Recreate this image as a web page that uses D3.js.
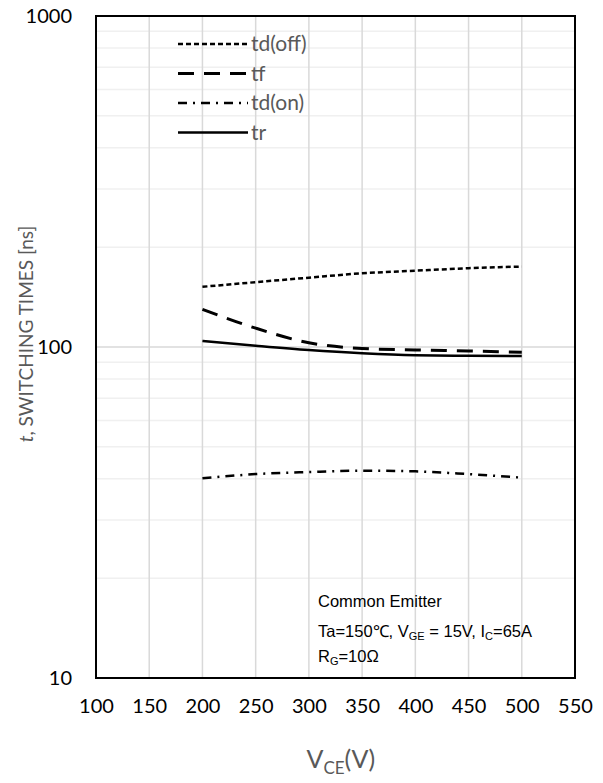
<!DOCTYPE html>
<html lang="en">
<head>
<meta charset="utf-8">
<title>Switching times vs VCE</title>
<script src="https://cdn.jsdelivr.net/npm/d3@7"></script>
<style>
  body { margin: 0; background: #fff; }
  svg text { font-family: Lato, "Open Sans", sans-serif; }
</style>
</head>
<body>
<svg id="chart" width="603" height="783"></svg>
<script>
// data
var vce = [200, 250, 300, 350, 400, 450, 500];
var tdOff = [152, 157, 162, 167, 170, 173, 175];
var tf = [130, 114, 103, 99, 98, 97.3, 96.4];
var tdOn = [40.1, 41.3, 41.9, 42.3, 42.1, 41.3, 40.3];
var tr = [104.3, 100.9, 97.9, 95.7, 94.4, 94.1, 93.9];

var xTicks = [100, 150, 200, 250, 300, 350, 400, 450, 500, 550];
var yTicks = [10, 100, 1000];

var series = [
  {name: "td(off)", values: tdOff, dash: "5,3", width: 2.5},
  {name: "tf", values: tf, dash: "16,10", width: 3},
  {name: "td(on)", values: tdOn, dash: "9,6,2,6", width: 2.5},
  {name: "tr", values: tr, dash: null, width: 2.5}
];

var margin = {left: 96, top: 16, right: 28, bottom: 105};
var svg = d3.select("#chart");
var W = 603 - margin.left - margin.right;
var H = 783 - margin.top - margin.bottom;

var x = d3.scaleLinear().domain([100, 550]).range([0, W]);
var y = d3.scaleLog().domain([10, 1000]).range([H, 0]);

var g = svg.append("g").attr("transform", "translate(" + margin.left + "," + margin.top + ")");

// minor horizontal gridlines
var minor = [];
[10, 100].forEach(function(dec) {
  for (var k = 2; k <= 9; k++) minor.push(dec * k);
});
g.selectAll(".minor").data(minor).enter().append("line")
  .attr("x1", 0).attr("x2", W)
  .attr("y1", function(d) { return y(d); }).attr("y2", function(d) { return y(d); })
  .attr("stroke", "#f0f0f0").attr("stroke-width", 1.5);

// major gridlines
g.selectAll(".ymajor").data(yTicks).enter().append("line")
  .attr("x1", 0).attr("x2", W)
  .attr("y1", function(d) { return y(d); }).attr("y2", function(d) { return y(d); })
  .attr("stroke", "#d9d9d9").attr("stroke-width", 1.5);
g.selectAll(".xgrid").data(xTicks).enter().append("line")
  .attr("x1", function(d) { return x(d); }).attr("x2", function(d) { return x(d); })
  .attr("y1", 0).attr("y2", H)
  .attr("stroke", "#d9d9d9").attr("stroke-width", 1.5);

// axes (labels only)
var xAxis = g.append("g").attr("transform", "translate(0," + H + ")")
  .call(d3.axisBottom(x).tickValues(xTicks).tickSize(0).tickPadding(21).tickFormat(d3.format("d")));
xAxis.select(".domain").remove();
xAxis.selectAll("text").attr("font-size", 20).attr("fill", "#000");

var yAxis = g.append("g")
  .call(d3.axisLeft(y).tickValues(yTicks).tickSize(0).tickPadding(24).tickFormat(d3.format("d")));
yAxis.select(".domain").remove();
yAxis.selectAll("text").attr("font-size", 20).attr("fill", "#000");

// curves
var line = d3.line()
  .x(function(d, i) { return x(vce[i]); })
  .y(function(d) { return y(d); })
  .curve(d3.curveMonotoneX);

g.selectAll(".series").data(series).enter().append("path")
  .attr("d", function(s) { return line(s.values); })
  .attr("fill", "none")
  .attr("stroke", "#000")
  .attr("stroke-width", function(s) { return s.width; })
  .attr("stroke-dasharray", function(s) { return s.dash; });

// plot border
g.append("rect").attr("width", W).attr("height", H)
  .attr("fill", "none").attr("stroke", "#000").attr("stroke-width", 2);

// legend
var leg = g.append("g").attr("transform", "translate(82,28)");
var rows = leg.selectAll("g").data(series).enter().append("g")
  .attr("transform", function(d, i) { return "translate(0," + (i * 29.5) + ")"; });
rows.append("line").attr("x1", 0).attr("x2", 70).attr("y1", 0).attr("y2", 0)
  .attr("stroke", "#000")
  .attr("stroke-width", function(s) { return s.width; })
  .attr("stroke-dasharray", function(s) { return s.dash; });
rows.append("text").attr("x", 73).attr("y", 7)
  .attr("font-size", 21).attr("fill", "#595959")
  .text(function(s) { return s.name; });

// annotation
var ann = g.append("g").attr("transform", "translate(222,0)")
  .style("font-family", "'Liberation Sans', Arial, sans-serif");
ann.append("text").attr("y", 591).attr("font-size", 16.5).attr("fill", "#000")
  .style("font-family", "'Liberation Sans', Arial, sans-serif").text("Common Emitter");
var l2 = ann.append("text").attr("y", 621).attr("font-size", 16.5).attr("fill", "#000")
  .style("font-family", "'Liberation Sans', Arial, sans-serif");
l2.append("tspan").text("Ta=150\u2103, V");
l2.append("tspan").attr("font-size", 11).attr("dy", 3).text("GE");
l2.append("tspan").attr("dy", -3).text(" = 15V, I");
l2.append("tspan").attr("font-size", 11).attr("dy", 3).text("C");
l2.append("tspan").attr("dy", -3).text("=65A");
var l3 = ann.append("text").attr("y", 646).attr("font-size", 16.5).attr("fill", "#000")
  .style("font-family", "'Liberation Sans', Arial, sans-serif");
l3.append("tspan").text("R");
l3.append("tspan").attr("font-size", 11).attr("dy", 3).text("G");
l3.append("tspan").attr("dy", -3).text("=10\u03a9");

// axis titles
var xt = svg.append("text").attr("x", margin.left + x(330)).attr("y", 768)
  .attr("text-anchor", "middle").attr("font-size", 25).attr("fill", "#595959");
xt.append("tspan").text("V");
xt.append("tspan").attr("font-size", 17).attr("dy", 6).text("CE");
xt.append("tspan").attr("dy", -6).text("(V)");

var yt = svg.append("text")
  .attr("transform", "translate(33," + (margin.top + H / 2 - 13) + ") rotate(-90)")
  .attr("text-anchor", "middle").attr("font-size", 19).attr("fill", "#595959");
yt.append("tspan").attr("font-style", "italic").text("t");
yt.append("tspan").text(", SWITCHING TIMES [ns]");
</script>
</body>
</html>
